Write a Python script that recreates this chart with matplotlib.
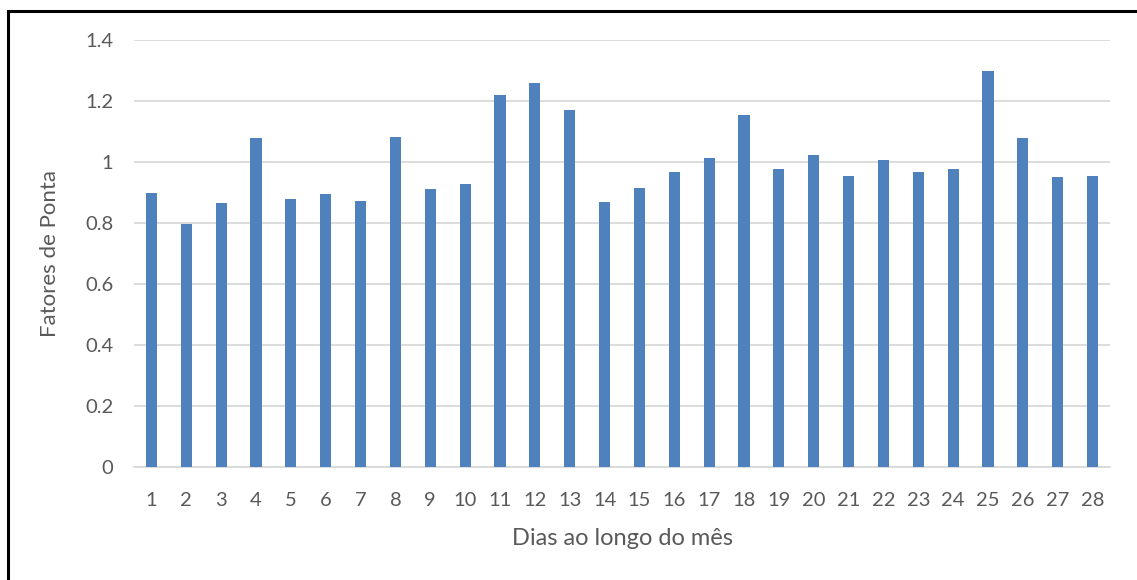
import matplotlib.pyplot as plt
import matplotlib.patches as mpatches
import numpy as np

# ---------------------------------------------------------
# DATA
# ---------------------------------------------------------
dias = list(range(1, 29))
fatores_ponta = [0.90, 0.796, 0.865, 1.080, 0.879, 0.896, 0.871, 1.082,
                 0.910, 0.929, 1.220, 1.260, 1.170, 0.868, 0.914, 0.966,
                 1.013, 1.153, 0.976, 1.022, 0.953, 1.007, 0.968, 0.976,
                 1.299, 1.079, 0.950, 0.953]
y_ticks = [0, 0.2, 0.4, 0.6, 0.8, 1.0, 1.2, 1.4]
y_labels = ["0", "0.2", "0.4", "0.6", "0.8", "1", "1.2", "1.4"]

# ---------------------------------------------------------
# STYLE
# ---------------------------------------------------------
plt.rcParams['font.family'] = ['Lato', 'DejaVu Sans']
text_color = "#595959"
grid_color = "#D9D9D9"
bar_color = "#4F81BD"

# ---------------------------------------------------------
# PLOT
# ---------------------------------------------------------
fig = plt.figure(figsize=(11.37, 5.80), dpi=100)
ax = fig.add_axes([134 / 1137, 1 - 467 / 580, (1110 - 134) / 1137, (467 - 40) / 580])

x = np.arange(len(dias))
ax.bar(x, fatores_ponta, width=0.32, color=bar_color, zorder=3)

ax.set_xlim(-0.5, len(dias) - 0.5)
ax.set_ylim(0, 1.4)
ax.set_yticks(y_ticks)
ax.set_yticklabels(y_labels)
ax.set_xticks(x)
ax.set_xticklabels([str(d) for d in dias])

ax.grid(axis="y", color=grid_color, linewidth=1.3, zorder=0)
ax.set_axisbelow(True)
for side in ["top", "right", "left"]:
    ax.spines[side].set_visible(False)
ax.spines["bottom"].set_color(grid_color)
ax.spines["bottom"].set_linewidth(1.3)

ax.tick_params(axis="both", length=0, labelsize=14.5, colors=text_color)
ax.tick_params(axis="x", pad=18)
ax.tick_params(axis="y", pad=15)

ax.set_xlabel("Dias ao longo do mês", fontsize=17, color=text_color, labelpad=14)
ax.set_ylabel("Fatores de Ponta", fontsize=16, color=text_color, labelpad=18)

# outer frame around the chart area
frame = mpatches.Rectangle((7.5 / 1137, -0.05), 1.2, 1 - 11 / 580 + 0.05,
                           transform=fig.transFigure, fill=False,
                           edgecolor="black", linewidth=2.2, clip_on=False)
fig.patches.append(frame)

fig.savefig("out.png", dpi=100, facecolor="white")
